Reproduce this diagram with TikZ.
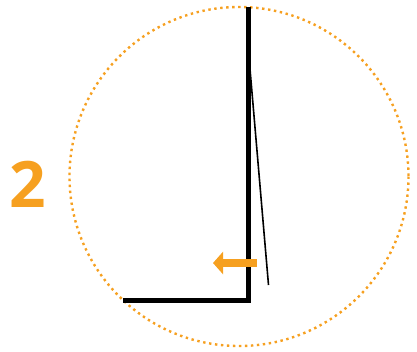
\documentclass[tikz,border=0pt]{standalone}
\usepackage{fontspec}
\setmainfont{Open Sans}
\usetikzlibrary{arrows.meta}
\definecolor{org}{RGB}{246,160,32}
\tikzset{
  dotcircle/.style={draw=org,line width=2.4pt,dash pattern=on 2.4pt off 3.6pt},
  thick line/.style={line width=5pt,line cap=butt,line join=miter},
  thin line/.style={line width=1.6pt},
  orarrow/.style={draw=org,line width=8pt,-{Triangle[length=10pt,width=22pt]}},
}
\begin{document}
\begin{tikzpicture}[x=1pt,y=-1pt]
\useasboundingbox (0,0) rectangle (417,351);
\draw[dotcircle] (239,176.5) circle (169.5);
\coordinate (top) at (248,7);
\coordinate (corner) at (248,300);
\coordinate (left) at (123,300);
\draw[thick line] (top) -- (corner) -- (left);
\coordinate (ts) at (247.5,40);
\coordinate (te) at (268.5,285);
\draw[thin line] (ts) -- (te);
\coordinate (as) at (257,263);
\coordinate (ae) at (213,263);
\draw[orarrow] (as) -- (ae);
\node[text=org,font=\bfseries\fontsize{64}{64}\selectfont,inner sep=0pt] (num) at (28,184) {2};
\end{tikzpicture}
\end{document}
